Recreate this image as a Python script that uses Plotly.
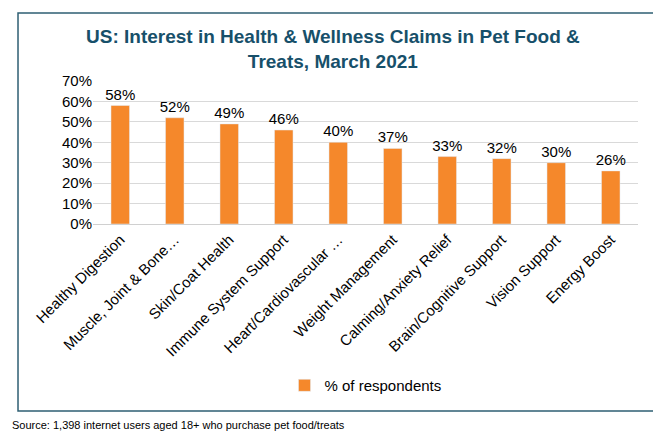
import plotly.graph_objects as go

categorias = ["Healthy Digestion", "Muscle, Joint & Bone…", "Skin/Coat Health",
              "Immune System Support", "Heart/Cardiovascular …", "Weight Management",
              "Calming/Anxiety Relief", "Brain/Cognitive Support", "Vision Support",
              "Energy Boost"]
valores = [58, 52, 49, 46, 40, 37, 33, 32, 30, 26]
etiquetas = [f"{v}%" for v in valores]

fuente = "Liberation Sans, Arial, sans-serif"

fig = go.Figure(go.Bar(
    x=categorias, y=valores, name="% of respondents",
    marker_color="#F5882B", text=etiquetas, textposition="outside",
    constraintext="none",
    textfont=dict(size=15, color="#000"), cliponaxis=False, showlegend=True,
))

fig.update_layout(
    width=661, height=435,
    margin=dict(l=85, r=31, t=73, b=219),
    paper_bgcolor="white", plot_bgcolor="white",
    font=dict(family=fuente, color="#000"),
    bargap=0.66,
    xaxis=dict(tickangle=-45, tickfont=dict(size=15), showline=True,
               linecolor="#d0d0d0", ticks=""),
    yaxis=dict(range=[0, 70], dtick=10, ticksuffix="%", tickfont=dict(size=15),
               gridcolor="#d9d9d9", zeroline=False),
    legend=dict(orientation="h", x=0.5, xanchor="center", y=-1.13, yanchor="middle",
                font=dict(size=15)),
    shapes=[dict(type="rect", xref="paper", yref="paper",
                 x0=-0.1376, x1=1.033, y0=-1.3077, y1=1.4755,
                 line=dict(color="#2E5F73", width=1.5))],
    annotations=[
        dict(text="<b>US: Interest in Health & Wellness Claims in Pet Food &<br>Treats, March 2021</b>",
             xref="paper", yref="paper", x=0.44, y=1.40, showarrow=False,
             font=dict(size=19, color="#17506A"), align="center"),
        dict(text="Source: 1,398 internet users aged 18+ who purchase pet food/treats",
             xref="paper", yref="paper", x=-0.152, xanchor="left", y=-1.46,
             showarrow=False, font=dict(size=11)),
    ],
)

fig.write_html("out.html")
